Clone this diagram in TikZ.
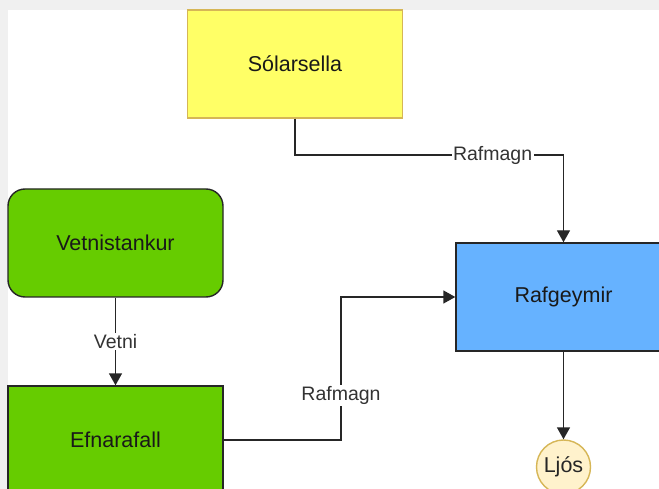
\documentclass[tikz,border=0pt]{standalone}
\usepackage{fontspec}
\setmainfont{Liberation Sans}
\usetikzlibrary{arrows.meta}
\definecolor{bgframe}{HTML}{F0F0F0}
\definecolor{yelfill}{HTML}{FFFF66}
\definecolor{yelline}{HTML}{D6B656}
\definecolor{grnfill}{HTML}{66CC00}
\definecolor{bluefill}{HTML}{66B2FF}
\definecolor{lightfill}{HTML}{FFF2CC}
\definecolor{boxline}{HTML}{262626}
\definecolor{labtext}{HTML}{333333}
\tikzset{
  box/.style={draw=boxline, line width=1.4pt, minimum width=215pt, minimum height=108pt, inner sep=0pt, font=\fontsize{21.5}{24}\selectfont, text=black!90},
  sunbox/.style={box, draw=yelline, fill=yelfill},
  tankbox/.style={box, fill=grnfill, rounded corners=17pt},
  cellbox/.style={box, fill=grnfill},
  batbox/.style={box, fill=bluefill},
  lampnode/.style={circle, draw=yelline, fill=lightfill, line width=1.4pt, minimum size=54pt, inner sep=0pt, font=\fontsize{21.5}{24}\selectfont, text=black!85},
  conn/.style={draw=black!85, line width=1.4pt, -{Triangle[length=12pt,width=13pt]}},
  elabel/.style={fill=white, inner sep=1.5pt, font=\fontsize{19.5}{22}\selectfont, text=labtext}
}
\begin{document}
\begin{tikzpicture}[x=1pt,y=-1pt]
\useasboundingbox (0,0) rectangle (659,489);
\clip (0,0) rectangle (659,489);
\fill[bgframe] (0,0) rectangle (659,489);
\fill[white] (8,10) rectangle (659,489);

\node[sunbox] (sol) at (295,64) {Sólarsella};
\node[tankbox] (vet) at (115.5,243) {Vetnistankur};
\node[cellbox] (efn) at (115.5,440) {Efnarafall};
\node[batbox] (raf) at (563.5,297) {Rafgeymir};
\node[lampnode] (ljos) at (563.5,467) {Ljós};

\coordinate (s1) at (295,155);
\coordinate (e1) at (341,440);
\coordinate (e2) at (341,297);

\draw[conn] (sol.south) -- (s1) -| node[elabel, pos=0.368] {Rafmagn} (raf.north);
\draw[conn] (vet.south) -- node[elabel] {Vetni} (efn.north);
\draw[conn] (efn.east) -- (e1) -- node[elabel, pos=0.31] {Rafmagn} (e2) -- (raf.west);
\draw[conn] (raf.south) -- (ljos.north);
\end{tikzpicture}
\end{document}
